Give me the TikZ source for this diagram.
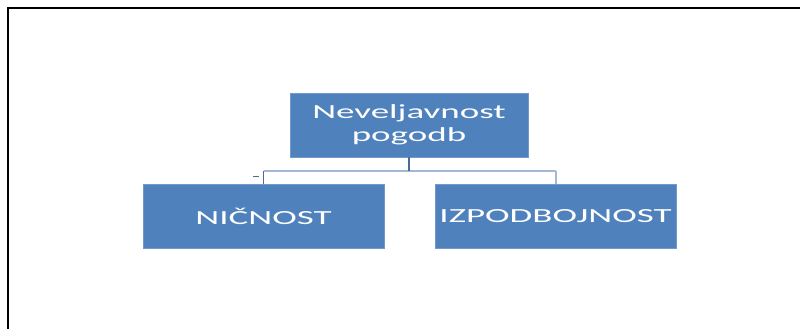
\documentclass[tikz,border=0pt]{standalone}
\usepackage{fontspec}
\usepackage{tikz}
\usetikzlibrary{positioning}
\newfontfamily\boxfont[FakeStretch=1.85]{Carlito}
\definecolor{BoxBlue}{HTML}{4F81BD}
\definecolor{LinkLight}{HTML}{A4B7D4}
\definecolor{LinkDark}{HTML}{4A6A9A}
\tikzset{
  orgbox/.style={fill=BoxBlue, draw=BoxBlue!80!white, line width=0.6pt,
    minimum height=64pt, inner sep=0pt, text=white, align=center,
    font=\boxfont\fontsize{20}{23}\selectfont},
  link/.style={draw=LinkLight, line width=2pt},
  linkdark/.style={draw=LinkDark, line width=1.6pt}
}

\begin{document}
\begin{tikzpicture}[x=1pt, y=-1pt]

% page size
\useasboundingbox (0,0) rectangle (800,329);

% frame (top and left side only)
\draw[line width=2pt] (800,8.3) -- (7.7,8.3) -- (7.7,329);

% The boxes
\node[orgbox, minimum width=238pt] (root) at (409,125) {Neveljavnost\\pogodb};
\node[orgbox, minimum width=241pt] (nicnost) at (263.5,216) {NIČNOST};
\node[orgbox, minimum width=241pt] (izpod) at (555.5,216) {IZPODBOJNOST};

% split level
\def \ySplit {171}
\coordinate (split) at (409,\ySplit);
\coordinate (tick) at (253,176);

% horizontal bar
\draw[link] (nicnost.north |- split) -- (izpod.north |- split);

% right branch
\draw[link] (izpod.north |- split) -- (izpod.north);

% root stem and left branch
\draw[linkdark] (root.south) -- (split);
\draw[linkdark] (nicnost.north |- split) -- (nicnost.north);
\draw[linkdark, line width=1pt] (tick) -- ++(6,0);

\end{tikzpicture}
\end{document}
